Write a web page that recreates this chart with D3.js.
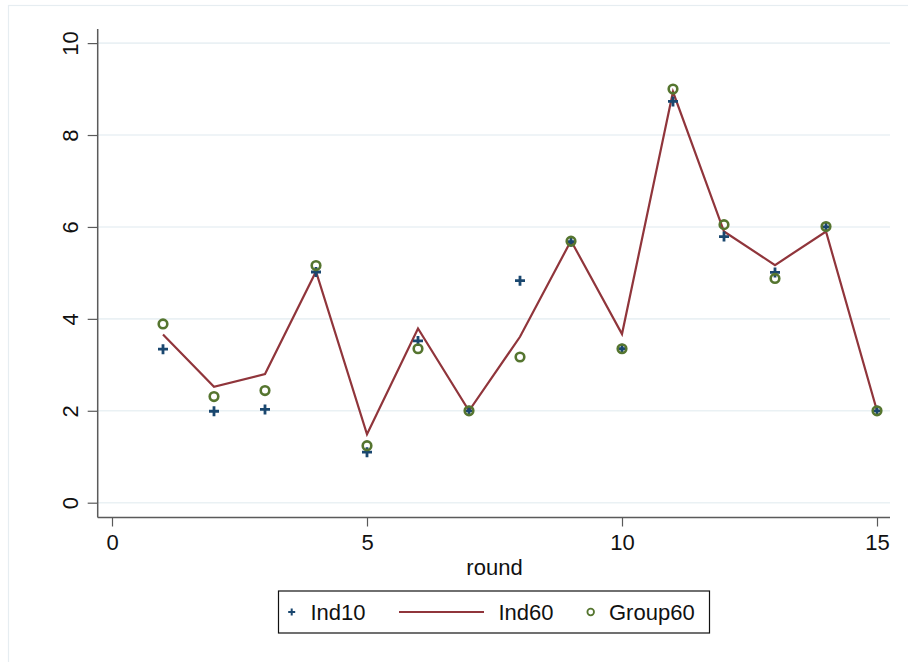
<!DOCTYPE html>
<html>
<head>
<meta charset="utf-8">
<script src="https://cdn.jsdelivr.net/npm/d3@7"></script>
<style>
  html, body { margin: 0; padding: 0; background: #ffffff; }
  svg { display: block; font-family: "Liberation Sans", Arial, Helvetica, sans-serif; }
</style>
</head>
<body>
<svg id="chart" width="908" height="662"></svg>
<script>
// Rounds and the three series
const rounds  = [1, 2, 3, 4, 5, 6, 7, 8, 9, 10, 11, 12, 13, 14, 15];
const ind10   = [3.34, 1.99, 2.03, 5.02, 1.10, 3.52, 2.00, 4.83, 5.68, 3.35, 8.73, 5.79, 5.01, 6.00, 2.00];
const ind60   = [3.66, 2.52, 2.80, 5.03, 1.49, 3.79, 2.00, 3.61, 5.70, 3.67, 8.94, 5.90, 5.17, 5.90, 2.00];
const group60 = [3.89, 2.31, 2.44, 5.16, 1.24, 3.35, 2.00, 3.17, 5.69, 3.35, 9.00, 6.05, 4.88, 6.01, 2.00];

const xTicks = [0, 5, 10, 15];
const yTicks = [0, 2, 4, 6, 8, 10];
const legendLabels = ["Ind10", "Ind60", "Group60"];

const navy = "#1a476f", maroon = "#90353b", green = "#55752f";
const gridColor = "#eaf1f4", axisColor = "#5a5a5a";
const fontSize = 22;

const svg = d3.select("#chart");

// outer graph region frame
svg.append("rect")
  .attr("x", 8.5).attr("y", 5.5).attr("width", 920).attr("height", 680)
  .attr("fill", "none").attr("stroke", "#e6edf1").attr("stroke-width", 1.2);

const x = d3.scaleLinear().domain([0, 15]).range([112, 877]);
const y = d3.scaleLinear().domain([0, 10]).range([502.7, 43.1]);

const axisX = 97.7, axisY = 517.5, plotTop = 29, plotRight = 890;

// horizontal grid lines
svg.append("g").selectAll("line").data(yTicks).join("line")
  .attr("x1", axisX).attr("x2", plotRight)
  .attr("y1", d => y(d)).attr("y2", d => y(d))
  .attr("stroke", gridColor).attr("stroke-width", 1.6);

// y axis
const gy = svg.append("g").attr("transform", `translate(${axisX},0)`)
  .call(d3.axisLeft(y).tickValues(yTicks).tickSize(10).tickPadding(0).tickFormat(d3.format("d")));
gy.select(".domain").remove();
gy.selectAll(".tick line").attr("stroke", axisColor).attr("stroke-width", 1.2);
gy.selectAll(".tick text")
  .attr("font-size", fontSize).attr("fill", "#111").attr("font-family", "Liberation Sans, Arial, sans-serif")
  .attr("text-anchor", "middle")
  .attr("transform", "translate(-28,0) rotate(-90)")
  .attr("x", 0).attr("dy", "0.36em");
svg.append("line").attr("x1", axisX).attr("x2", axisX).attr("y1", plotTop).attr("y2", axisY)
  .attr("stroke", axisColor).attr("stroke-width", 1.5);

// x axis
const gx = svg.append("g").attr("transform", `translate(0,${axisY})`)
  .call(d3.axisBottom(x).tickValues(xTicks).tickSize(9).tickPadding(8).tickFormat(d3.format("d")));
gx.select(".domain").remove();
gx.selectAll(".tick line").attr("stroke", axisColor).attr("stroke-width", 1.2);
gx.selectAll(".tick text").attr("font-size", fontSize).attr("fill", "#111")
  .attr("font-family", "Liberation Sans, Arial, sans-serif");
svg.append("line").attr("x1", axisX).attr("x2", plotRight).attr("y1", axisY).attr("y2", axisY)
  .attr("stroke", axisColor).attr("stroke-width", 1.5);

svg.append("text").attr("x", (x(0) + x(15)) / 2).attr("y", 575)
  .attr("text-anchor", "middle").attr("font-size", fontSize).attr("fill", "#111").text("round");

// Ind60 line
const line = d3.line().x((d, i) => x(rounds[i])).y(d => y(d));
svg.append("path").datum(ind60).attr("d", line)
  .attr("fill", "none").attr("stroke", maroon).attr("stroke-width", 2.2)
  .attr("stroke-linejoin", "miter");

// Ind10 crosses
const crossPath = s => `M${-s},0H${s}M0,${-s}V${s}`;
svg.append("g").selectAll("path").data(ind10).join("path")
  .attr("transform", (d, i) => `translate(${x(rounds[i])},${y(d)})`)
  .attr("d", crossPath(5)).attr("stroke", navy).attr("stroke-width", 2.8).attr("fill", "none");

// Group60 hollow circles
svg.append("g").selectAll("circle").data(group60).join("circle")
  .attr("cx", (d, i) => x(rounds[i])).attr("cy", d => y(d)).attr("r", 4.3)
  .attr("fill", "none").attr("stroke", green).attr("stroke-width", 2.6);

// legend
const lg = svg.append("g");
lg.append("rect").attr("x", 278.5).attr("y", 591).attr("width", 431).attr("height", 42)
  .attr("fill", "#fff").attr("stroke", "#111").attr("stroke-width", 1.2);
const ly = 612;
lg.append("path").attr("transform", `translate(291.7,${ly})`).attr("d", crossPath(3.5))
  .attr("stroke", navy).attr("stroke-width", 2).attr("fill", "none");
lg.append("line").attr("x1", 399).attr("x2", 484).attr("y1", ly).attr("y2", ly)
  .attr("stroke", maroon).attr("stroke-width", 2.2);
lg.append("circle").attr("cx", 590.7).attr("cy", ly).attr("r", 3.3)
  .attr("fill", "none").attr("stroke", green).attr("stroke-width", 1.8);
const lx = [310.5, 498.5, 609];
lg.selectAll("text.lbl").data(legendLabels).join("text").attr("class", "lbl")
  .attr("x", (d, i) => lx[i]).attr("y", ly).attr("dy", "0.36em")
  .attr("font-size", fontSize).attr("fill", "#111").text(d => d);
</script>
</body>
</html>
